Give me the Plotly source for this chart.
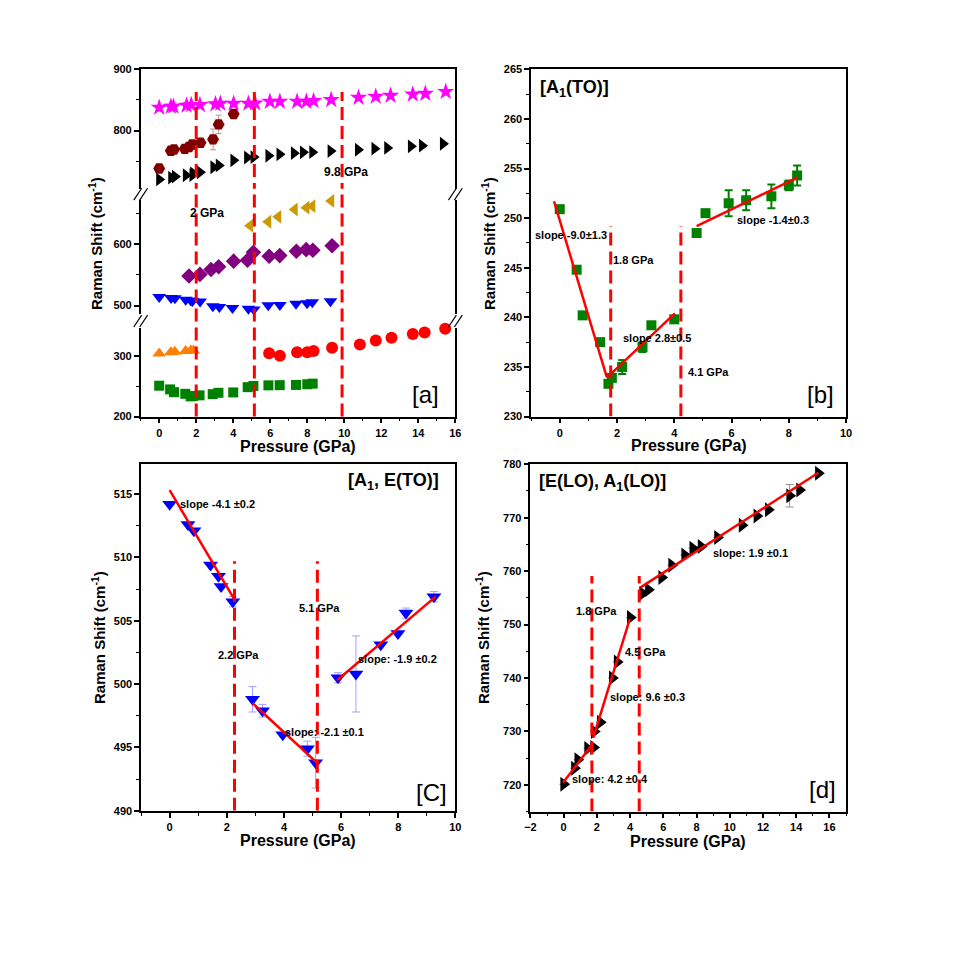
import plotly.graph_objects as go

# figure is 953 px so that, with the page's 8 px body margin, the page is exactly 969 px
FIG = 953
OFF = 8
FONT = "Arial, Liberation Sans, sans-serif"

# ---------------- DATA ----------------
# Panel a / shared series (pressure in GPa, Raman shift in cm-1)
p_star = [0, 0.63, 0.77, 1.48, 1.73, 2.2, 3.04, 3.3, 4.02, 4.82, 5.18, 5.98, 6.52, 7.45, 7.95, 8.34, 9.29, 10.77, 11.7, 12.5, 13.7, 14.38, 15.48]
w_star = [837.6, 839.2, 839.2, 840.9, 841.9, 841.9, 843.0, 844.1, 844.1, 844.1, 844.6, 847.3, 847.3, 847.3, 847.3, 848.4, 850.0, 853.8, 855.4, 857.0, 859.1, 860.2, 863.4]

p_hex = [0, 0.63, 0.8, 1.38, 1.61, 1.79, 2.23, 2.91, 3.21, 4.02]
w_hex = [738, 767, 769, 770, 773, 777, 780, 785.5, 810, 827]
e_hex = [0, 0, 0, 0, 0, 0, 0, 17, 15, 0]

p_lo = [0, 0.65, 0.85, 1.44, 1.8, 1.84, 2.2, 2.93, 3.22, 4.01, 4.75, 5.1, 5.9, 6.5, 7.28, 7.77, 8.27, 9.26, 10.74, 11.63, 12.32, 13.6, 14.2, 15.33]
w_lo = [720.1, 723.1, 724.7, 726.8, 727.0, 730.0, 731.7, 740.0, 743.0, 751.3, 755.8, 756.5, 758.8, 761.1, 763.0, 764.3, 764.6, 766.3, 768.6, 770.3, 771.5, 774.1, 775.2, 778.3]
e_lo = [0, 0, 0, 0, 0, 0, 0, 0, 0, 0, 0, 0, 0, 0, 0, 0, 0, 0, 0, 0, 0, 2.1, 0, 0]

p_gold = [4.91, 5.89, 6.43, 7.32, 7.95, 8.27, 9.29]
w_gold = [630.6, 637, 645, 657, 660, 662.4, 671]

p_pur = [1.61, 2.2, 2.8, 3.21, 4.02, 4.77, 5.09, 5.94, 6.51, 7.41, 7.94, 8.3, 9.34]
w_pur = [548.4, 551, 559, 563.4, 572.6, 574, 587, 580.6, 581.7, 588.7, 591.4, 590.3, 597.8]

p_e = [0, 0.64, 0.85, 1.43, 1.71, 1.8, 2.21, 2.9, 3.25, 3.96, 4.82, 5.11, 5.89, 6.52, 7.39, 7.99, 8.27, 9.25]
w_e = [514.2, 512.6, 512.1, 509.4, 508.5, 507.7, 506.5, 498.8, 497.9, 496.0, 494.9, 493.8, 500.5, 500.8, 503.1, 504.0, 505.6, 506.9]
e_e = [0, 0, 0, 0, 0, 0, 0.4, 1.0, 0.5, 0, 0.6, 2.0, 0.4, 3.0, 0, 0, 0.4, 0.4]

p_or = [0, 0.63, 0.84, 1.43, 1.71, 1.85]
w_or = [304, 306, 307, 308, 309, 309]

p_rc = [5.94, 6.52, 7.45, 8.0, 8.34, 9.34, 10.84, 11.7, 12.55, 13.7, 14.34, 15.45]
w_rc = [304.3, 300.5, 306, 306, 308, 313.6, 319, 325.5, 330, 336, 338.6, 345]

p_to = [0, 0.59, 0.8, 1.41, 1.7, 1.82, 2.18, 2.89, 3.2, 4.0, 4.78, 5.09, 5.9, 6.51, 7.39, 8.0, 8.29]
w_to = [250.9, 244.8, 240.2, 237.5, 233.3, 233.9, 235.0, 237.0, 239.2, 239.8, 248.5, 250.5, 251.5, 251.8, 252.2, 253.3, 254.3]
e_to = [0, 0, 0, 0, 0.3, 0.3, 0.7, 0.5, 0.3, 0, 0, 0, 1.3, 1.0, 1.2, 0.5, 1.0]

# transition pressures (dashed lines) and their top ends
trans_a = [2.0, 5.14, 9.88]
trans_a_top = 863
trans_b = [1.78, 4.23]
trans_b_top = 249.2
trans_c = [2.27, 5.17]
trans_c_top = 509.7
trans_d = [1.7, 4.55]
trans_d_top = 759.1

# linear fit segments
fit_b_x = [[-0.2, 1.64], [1.64, 4.02], [4.78, 8.31]]
fit_b_y = [[251.7, 234.0], [233.9, 240.4], [249.2, 254.1]]
fit_c_x = [[0, 2.26], [2.9, 5.2], [5.86, 9.31]]
fit_c_y = [[515.3, 506.7], [498.5, 493.7], [500.3, 506.9]]
fit_d_x = [[-0.04, 1.76], [1.78, 3.98], [4.61, 15.33]]
fit_d_y = [[720.4, 727.7], [728.8, 751.0], [756.9, 778.4]]

# ---------------- LAYOUT HELPERS ----------------
def fx(px):
    return (px - OFF) / FIG

def fy(py):
    return 1 - (py - OFF) / FIG

RED = "#FF0000"
DASH = "13px,6px"
tickfont = dict(family=FONT, size=11, color="black", weight="bold")

# panel a vertical layout (pixel rows of the three broken-axis segments)
A_BOT = [415.7, 326]
A_MID = [312, 196]
A_TOP = [185, 64]

fig = go.Figure()

def sc(x, y, xa, ya, symbol, color, size=11, err=None, errcolor=None, errw=1, capw=4):
    kw = {}
    if err is not None:
        kw["error_y"] = dict(type="data", array=err, visible=True, color=errcolor or color,
                             thickness=errw, width=capw)
    fig.add_trace(go.Scatter(x=x, y=y, xaxis=xa, yaxis=ya, mode="markers",
                             marker=dict(symbol=symbol, color=color, size=size, line=dict(width=0)),
                             cliponaxis=False, showlegend=False, **kw))

def vline(xv, y0, y1, xa, ya):
    fig.add_trace(go.Scatter(x=[xv, xv], y=[y0, y1], xaxis=xa, yaxis=ya, mode="lines",
                             line=dict(color=RED, width=3, dash=DASH), showlegend=False,
                             hoverinfo="skip"))

def fitline(xs, ys, xa, ya):
    for x, y in zip(xs, ys):
        fig.add_trace(go.Scatter(x=x, y=y, xaxis=xa, yaxis=ya, mode="lines",
                                 line=dict(color=RED, width=2.5), showlegend=False,
                                 hoverinfo="skip"))

# ---------------- PANEL A ----------------
sc(p_to, w_to, "x", "y", "square", "#008000", 10)
sc(p_or, w_or, "x", "y", "triangle-up", "#FF8000", 12)
sc(p_rc, w_rc, "x", "y", "circle", "#FF0000", 12)
sc(p_e, w_e, "x2", "y2", "triangle-down", "#0000FF", 12)
sc(p_pur, w_pur, "x2", "y2", "diamond", "#800080", 12)
sc(p_gold, w_gold, "x2", "y2", "triangle-left", "#CC9900", 12)
sc(p_lo, w_lo, "x3", "y3", "triangle-right", "black", 12)
sc(p_hex, w_hex, "x3", "y3", "hexagon2", "#800000", 12, err=e_hex, errcolor="#C09090", errw=1, capw=3)
sc(p_star, w_star, "x3", "y3", "star", "#FF00FF", 13)
for xv in trans_a:
    # top segment: from its bottom edge up to the line end
    vline(xv, 600, trans_a_top, "x3", "y3")
    # lower two segments and the gaps: full-height dashed line
    fig.add_shape(type="line", xref="x", yref="paper", x0=xv, x1=xv,
                  y0=fy(A_BOT[0]), y1=fy(A_TOP[0]),
                  line=dict(color=RED, width=3, dash=DASH))

# ---------------- PANEL B ----------------
sc(p_to, w_to, "x4", "y4", "square", "#008000", 10, err=e_to, errcolor="#008000", errw=2, capw=4)
for xv in trans_b:
    vline(xv, 230, trans_b_top, "x4", "y4")
fitline(fit_b_x, fit_b_y, "x4", "y4")

# ---------------- PANEL C ----------------
sc(p_e, w_e, "x5", "y5", "triangle-down", "#0000FF", 13, err=e_e, errcolor="#A0A0FF", errw=1, capw=4)
for xv in trans_c:
    vline(xv, 490, trans_c_top, "x5", "y5")
fitline(fit_c_x, fit_c_y, "x5", "y5")

# ---------------- PANEL D ----------------
sc(p_lo, w_lo, "x6", "y6", "triangle-right", "black", 13, err=e_lo, errcolor="#909090", errw=1, capw=4)
for xv in trans_d:
    vline(xv, 715, trans_d_top, "x6", "y6")
fitline(fit_d_x, fit_d_y, "x6", "y6")

# ---------------- AXES ----------------
axl = dict(showline=True, linecolor="black", linewidth=1.5, showgrid=False, zeroline=False,
           ticks="outside", ticklen=5, tickwidth=1.5, tickcolor="black", tickfont=tickfont)

def xaxis(dom, rng, dtick, anchor):
    return dict(axl, domain=dom, range=rng, dtick=dtick, tick0=0, anchor=anchor, mirror=True,
                minor=dict(dtick=dtick / 2, ticks="outside", ticklen=3, tickwidth=1.2, tickcolor="black"))

def yaxis(dom, rng, dtick, anchor):
    return dict(axl, domain=dom, range=rng, dtick=dtick, tick0=0, anchor=anchor, mirror=True,
                minor=dict(dtick=dtick / 2, ticks="outside", ticklen=3, tickwidth=1.2, tickcolor="black"))

ax_a = [fx(136.3), fx(455)]
ax_b = [fx(531.7), fx(850.7)]
ax_c = [fx(136.7), fx(455)]
ax_d = [fx(531), fx(850.7)]

layout = dict(
    width=FIG, height=FIG, margin=dict(l=0, r=0, t=0, b=0),
    paper_bgcolor="white", plot_bgcolor="white", showlegend=False,
    font=dict(family=FONT, color="black"),
)
# panel a: three stacked segments
xa = xaxis(ax_a, [-1, 16], 2, "y")
xa["mirror"] = False
layout["xaxis"] = xa
layout["xaxis2"] = dict(domain=ax_a, range=[-1, 16], anchor="y2", matches="x", showline=False,
                        showticklabels=False, ticks="", showgrid=False, zeroline=False)
layout["xaxis3"] = dict(domain=ax_a, range=[-1, 16], anchor="y3", matches="x", showline=True,
                        linecolor="black", linewidth=1.5, side="top", showticklabels=False,
                        ticks="", showgrid=False, zeroline=False)
layout["yaxis"] = yaxis([fy(A_BOT[0]), fy(A_BOT[1])], [200, 346.1], 100, "x")
layout["yaxis2"] = yaxis([fy(A_MID[0]), fy(A_MID[1])], [486, 673.1], 100, "x2")
layout["yaxis3"] = yaxis([fy(A_TOP[0]), fy(A_TOP[1])], [704.8, 900], 100, "x3")

layout["xaxis4"] = xaxis(ax_b, [-1, 10], 2, "y4")
layout["yaxis4"] = yaxis([fy(415.7), fy(64)], [230, 265], 5, "x4")
layout["xaxis5"] = xaxis(ax_c, [-1, 10], 2, "y5")
layout["yaxis5"] = yaxis([fy(815), fy(463.3)], [490, 517.4], 5, "x5")
layout["xaxis6"] = xaxis(ax_d, [-2, 17], 2, "y6")
layout["yaxis6"] = yaxis([fy(815.7), fy(464)], [715, 780], 10, "x6")

fig.update_layout(**layout)

# ---------------- TEXT ----------------
def ann(text, x, y, xref, yref, size=10, bold=True, xanchor="center", yanchor="middle", angle=0):
    fig.add_annotation(text=text, x=x, y=y, xref=xref, yref=yref, showarrow=False,
                       xanchor=xanchor, yanchor=yanchor, textangle=angle,
                       font=dict(family=FONT, size=size, color="black",
                                 weight="bold" if bold else "normal"))

ytitle = "Raman Shift (cm<sup>-1</sup>)"
xtitle = "Pressure (GPa)"
# axis titles
ann(ytitle, fx(90), fy(240), "paper", "paper", 15, angle=-90)
ann(ytitle, fx(488), fy(240), "paper", "paper", 15, angle=-90)
ann(ytitle, fx(93), fy(639), "paper", "paper", 15, angle=-90)
ann(ytitle, fx(482), fy(640), "paper", "paper", 15, angle=-90)
ann(xtitle, (ax_a[0] + ax_a[1]) / 2, fy(446), "paper", "paper", 16)
ann(xtitle, (ax_b[0] + ax_b[1]) / 2, fy(445), "paper", "paper", 16)
ann(xtitle, (ax_c[0] + ax_c[1]) / 2, fy(845), "paper", "paper", 16)
ann(xtitle, (ax_d[0] + ax_d[1]) / 2, fy(846), "paper", "paper", 16)

# panel labels
ann("[a]", fx(425), fy(393), "paper", "paper", 24, bold=False)
ann("[b]", fx(825), fy(393), "paper", "paper", 24, bold=False)
ann("[C]", fx(431), fy(796), "paper", "paper", 24, bold=False)
ann("[d]", fx(827), fy(793), "paper", "paper", 24, bold=False)

# mode titles
ann("[A<sub>1</sub>(TO)]", fx(539), fy(83), "paper", "paper", 18, xanchor="left")
ann("[A<sub>1</sub>, E(TO)]", fx(440), fy(481), "paper", "paper", 18, xanchor="right")
ann("[E(LO), A<sub>1</sub>(LO)]", fx(538), fy(482), "paper", "paper", 18, xanchor="left")

# panel a labels
ann("2 GPa", 2.6, 652, "x2", "y2", 12)
ann("5.1 GPa", 5.38, 700.5, "x3", "y3", 12)
ann("9.8 GPa", 10.1, 732.8, "x3", "y3", 12)

# panel b labels
ann("slope -9.0\u00b11.3", 0.4, 248.3, "x4", "y4", 11)
ann("1.8 GPa", 2.56, 245.8, "x4", "y4", 11)
ann("slope 2.8\u00b10.5", 3.39, 237.9, "x4", "y4", 11)
ann("4.1 GPa", 5.2, 234.5, "x4", "y4", 11)
ann("slope -1.4\u00b10.3", 7.44, 249.8, "x4", "y4", 11)

# panel c labels
ann("slope -4.1 \u00b10.2", 1.67, 514.2, "x5", "y5", 11)
ann("5.1 GPa", 5.24, 506.0, "x5", "y5", 11)
ann("2.2 GPa", 2.4, 502.3, "x5", "y5", 11)
ann("slope: -1.9 \u00b10.2", 7.97, 502.0, "x5", "y5", 11)
ann("slope: -2.1 \u00b10.1", 5.43, 496.2, "x5", "y5", 11)

# panel d labels
ann("1.8 GPa", 2.0, 752.5, "x6", "y6", 11)
ann("4.5 GPa", 4.9, 744.9, "x6", "y6", 11)
ann("slope: 9.6 \u00b10.3", 5.03, 736.4, "x6", "y6", 11)
ann("slope: 4.2 \u00b10.4", 2.79, 721.1, "x6", "y6", 11)
ann("slope: 1.9 \u00b10.1", 11.25, 763.4, "x6", "y6", 11)

# axis-break marks on panel a (decoration at the gaps between segments)
for bx in (136.3, 455):
    for gap in ((A_BOT[1], A_MID[0]), (A_MID[1], A_TOP[0])):
        cy = (gap[0] + gap[1]) / 2
        for off in (-3, 3):
            fig.add_shape(type="line", xref="paper", yref="paper",
                          x0=fx(bx + off - 4), y0=fy(cy + 6), x1=fx(bx + off + 4), y1=fy(cy - 6),
                          line=dict(color="black", width=1.2))

fig.write_html("out.html")
